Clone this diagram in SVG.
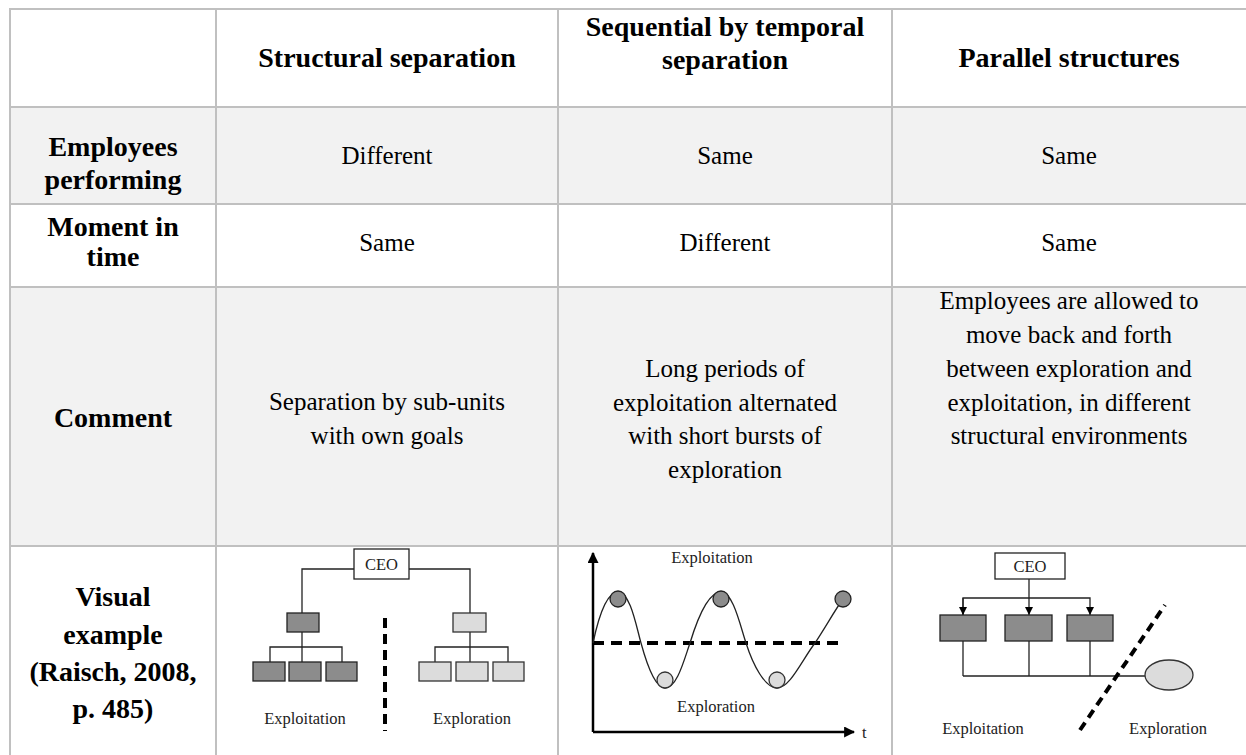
<svg xmlns="http://www.w3.org/2000/svg" width="1246" height="755" viewBox="0 0 1246 755">
<style>
.h{font-family:"Liberation Serif","Times New Roman",serif;font-weight:bold;font-size:28px;fill:#000;text-anchor:middle}
.b{font-family:"Liberation Serif","Times New Roman",serif;font-size:25px;fill:#000;text-anchor:middle}
.s{font-family:"Liberation Serif","Times New Roman",serif;font-size:16.5px;fill:#222;text-anchor:middle}
.grid{stroke:#c0c0c0;stroke-width:2;fill:none}
.ln{stroke:#222;stroke-width:1.3;fill:none}
.dk{fill:#8c8c8c;stroke:#222;stroke-width:1.3}
.lt{fill:#dcdcdc;stroke:#333;stroke-width:1.3}
.dash{stroke:#000;stroke-width:4;fill:none}
</style>
<defs>
<marker id="ah" viewBox="0 0 10 10" refX="10" refY="5" markerWidth="8" markerHeight="8" orient="auto" markerUnits="userSpaceOnUse"><path d="M0,0 L10,5 L0,10 z" fill="#000"/></marker>
<marker id="ah2" viewBox="0 0 10 10" refX="9" refY="5" markerWidth="11" markerHeight="11" orient="auto" markerUnits="userSpaceOnUse"><path d="M0,0 L10,5 L0,10 z" fill="#000"/></marker>
</defs>
<rect width="1246" height="755" fill="#fff"/>
<g id="rows">
<rect x="10" y="107" width="1236" height="97" fill="#f2f2f2"/>
<rect x="10" y="287" width="1236" height="259" fill="#f2f2f2"/>
</g>
<g id="grid" class="grid">
<line x1="10" y1="9" x2="1246" y2="9"/>
<line x1="10" y1="107" x2="1246" y2="107"/>
<line x1="10" y1="204" x2="1246" y2="204"/>
<line x1="10" y1="287" x2="1246" y2="287"/>
<line x1="10" y1="546" x2="1246" y2="546"/>
<line x1="10" y1="8" x2="10" y2="755"/>
<line x1="216" y1="8" x2="216" y2="755"/>
<line x1="558" y1="8" x2="558" y2="755"/>
<line x1="892" y1="8" x2="892" y2="755"/>
</g>
<g id="header">
<text class="h" x="387" y="67">Structural separation</text>
<text class="h" x="725" y="36">Sequential by temporal</text>
<text class="h" x="725" y="69">separation</text>
<text class="h" x="1069" y="67">Parallel structures</text>
</g>
<g id="labels">
<text class="h" x="113" y="156">Employees</text>
<text class="h" x="113" y="189">performing</text>
<text class="h" x="113" y="236">Moment in</text>
<text class="h" x="113" y="266">time</text>
<text class="h" x="113" y="427">Comment</text>
<text class="h" x="113" y="606">Visual</text>
<text class="h" x="113" y="644">example</text>
<text class="h" x="113" y="681">(Raisch, 2008,</text>
<text class="h" x="113" y="718">p. 485)</text>
</g>
<g id="cells">
<text class="b" x="387" y="164">Different</text>
<text class="b" x="725" y="164">Same</text>
<text class="b" x="1069" y="164">Same</text>
<text class="b" x="387" y="251">Same</text>
<text class="b" x="725" y="251">Different</text>
<text class="b" x="1069" y="251">Same</text>
<text class="b" x="387" y="410">Separation by sub-units</text>
<text class="b" x="387" y="444">with own goals</text>
<text class="b" x="725" y="377">Long periods of</text>
<text class="b" x="725" y="411">exploitation alternated</text>
<text class="b" x="725" y="444">with short bursts of</text>
<text class="b" x="725" y="478">exploration</text>
<text class="b" x="1069" y="309">Employees are allowed to</text>
<text class="b" x="1069" y="343">move back and forth</text>
<text class="b" x="1069" y="377">between exploration and</text>
<text class="b" x="1069" y="411">exploitation, in different</text>
<text class="b" x="1069" y="444">structural environments</text>
</g>
<g id="visual-structural">
<g id="s-connectors" class="ln">
<polyline points="354,569 302,569 302,613"/>
<polyline points="409,569 470,569 470,613"/>
<line x1="302" y1="632" x2="302" y2="662"/>
<polyline points="270,662 270,647 342,647 342,662"/>
<line x1="470" y1="632" x2="470" y2="662"/>
<polyline points="435,662 435,647 508,647 508,662"/>
</g>
<g id="s-ceo"><rect x="354" y="549" width="55" height="30" fill="#fff" stroke="#222" stroke-width="1.3"/><text class="s" x="381.5" y="570">CEO</text></g>
<rect id="s-dk0" class="dk" x="287" y="613" width="32" height="19"/>
<rect id="s-dk1" class="dk" x="253" y="662" width="32" height="19"/>
<rect id="s-dk2" class="dk" x="289" y="662" width="32" height="19"/>
<rect id="s-dk3" class="dk" x="326" y="662" width="31" height="19"/>
<rect id="s-lt0" class="lt" x="453" y="613" width="33" height="19"/>
<rect id="s-lt1" class="lt" x="419" y="662" width="32" height="19"/>
<rect id="s-lt2" class="lt" x="456" y="662" width="32" height="19"/>
<rect id="s-lt3" class="lt" x="493" y="662" width="31" height="19"/>
<line class="dash" x1="385" y1="618" x2="385" y2="731" stroke-dasharray="10,6"/>
<text class="s" x="305" y="724">Exploitation</text>
<text class="s" x="472" y="724">Exploration</text>
</g>
<g id="visual-temporal">
<line x1="593" y1="732" x2="593" y2="553" stroke="#000" stroke-width="2.5" marker-end="url(#ah2)"/>
<line x1="593" y1="732" x2="854" y2="732" stroke="#000" stroke-width="2.5" marker-end="url(#ah2)"/>
<text class="s" x="862" y="738" style="text-anchor:start">t</text>
<line class="dash" x1="593" y1="643" x2="844" y2="643" stroke-dasharray="11,7"/>
<path class="ln" d="M593,643 C600,610 608,592 618,592 C630,592 636,625 641,643 C647,665 655,688 665,688 C677,688 684,660 690,643 C697,620 708,592 721,592 C733,592 740,625 746,643 C753,665 765,688 777,688 C790,688 802,660 815,643 C825,628 835,610 843,599"/>
<circle id="t-p1" class="dk" cx="618" cy="599" r="8"/>
<circle id="t-p2" class="dk" cx="721" cy="599" r="8"/>
<circle id="t-p3" class="dk" cx="843" cy="599" r="8"/>
<circle id="t-v1" class="lt" cx="665" cy="680" r="8"/>
<circle id="t-v2" class="lt" cx="777" cy="680" r="8"/>
<text class="s" x="712" y="563">Exploitation</text>
<text class="s" x="716" y="712">Exploration</text>
</g>
<g id="visual-parallel">
<g id="p-connectors" class="ln">
<line x1="1029" y1="579" x2="1029" y2="615" marker-end="url(#ah)"/>
<polyline points="963,615 963,598 1090,598 1090,615" marker-end="url(#ah)"/>
<line x1="963" y1="598" x2="963" y2="615" marker-end="url(#ah)"/>
<line x1="963" y1="641" x2="963" y2="676"/>
<line x1="1029" y1="641" x2="1029" y2="676"/>
<line x1="1090" y1="641" x2="1090" y2="676"/>
<line x1="963" y1="676" x2="1145" y2="676"/>
</g>
<g id="p-ceo"><rect x="995" y="553" width="70" height="26" fill="#fff" stroke="#222" stroke-width="1.3"/><text class="s" x="1030" y="572">CEO</text></g>
<rect id="p-b1" class="dk" x="940" y="615" width="46" height="26"/>
<rect id="p-b2" class="dk" x="1005" y="615" width="47" height="26"/>
<rect id="p-b3" class="dk" x="1067" y="615" width="46" height="26"/>
<ellipse id="p-ell" class="lt" cx="1169" cy="675" rx="24" ry="15"/>
<line class="dash" x1="1080" y1="730" x2="1165" y2="605" stroke-width="3.5" stroke-dasharray="9,6"/>
<text class="s" x="983" y="734">Exploitation</text>
<text class="s" x="1168" y="734">Exploration</text>
</g>
</svg>
